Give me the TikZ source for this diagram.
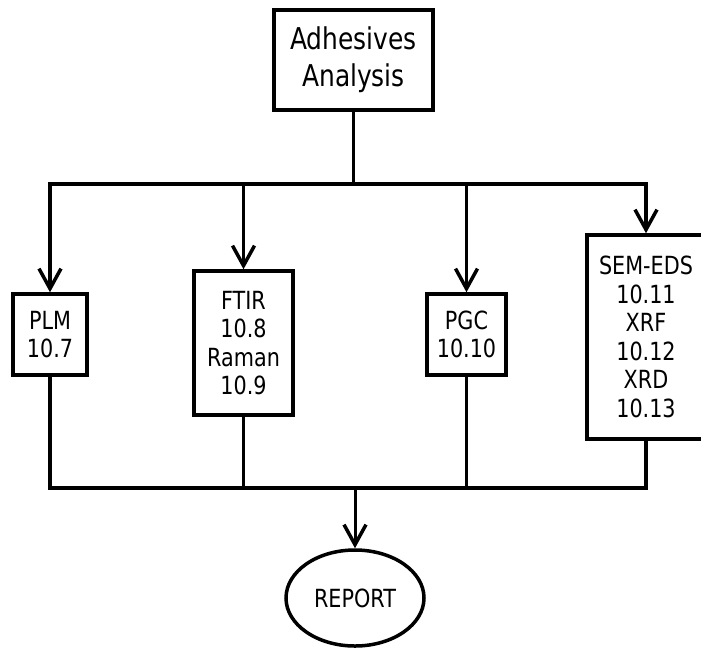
\documentclass[tikz,border=0pt]{standalone}
\usepackage{fontspec}
\setmainfont{DejaVu Sans}[FakeStretch=0.83]
\usetikzlibrary{arrows.meta,shapes.geometric}

\tikzset{
  box/.style={draw, line width=3.5pt, align=center, inner sep=0pt,
    font=\fontsize{25}{28.5}\selectfont},
  arr/.style={-{Straight Barb[length=20pt,width=22pt,line width=3.5pt]}},
}

\begin{document}
\begin{tikzpicture}[x=1pt, y=-1pt, line width=3.5pt]
  \useasboundingbox (0,0) rectangle (701,649);
  \clip (0,0) rectangle (701,649);

  % --- titolo ---
  \node[box, minimum width=159pt, minimum height=100pt,
    font=\fontsize{30}{37}\selectfont] (top) at (353.5,60) {Adhesives\\Analysis};

  % --- metodi ---
  \node[box, minimum width=74pt, minimum height=81pt] (plm) at (50,334.5) {PLM\\10.7};
  \node[box, minimum width=99pt, minimum height=144pt] (ftir) at (243.5,343) {FTIR\\10.8\\Raman\\10.9};
  \node[box, minimum width=79pt, minimum height=81pt] (pgc) at (466.5,334.5) {PGC\\10.10};
  \node[box, minimum width=118pt, minimum height=204pt] (sem) at (646,337)
    {SEM-EDS\\10.11\\XRF\\10.12\\XRD\\10.13};

  % --- report ---
  \node[ellipse, draw, line width=3.5pt, minimum width=138pt, minimum height=96pt,
    inner sep=0pt, font=\fontsize{25}{28.5}\selectfont] (report) at (355,598) {REPORT};

  % --- snodi ---
  \coordinate (hub)  at (353.5,184);
  \coordinate (join) at (355,488);

  % --- frecce ---
  \draw (top) -- (hub);                      % titolo -> barra
  \draw[arr] (hub) -| (plm);                 % barra -> PLM
  \draw[arr] (hub) -| (sem);                 % barra -> SEM-EDS
  \draw[arr] (hub -| ftir) -- (ftir);
  \draw[arr] (hub -| pgc)  -- (pgc);
  \draw (plm) |- (join);                     % metodi -> barra in basso
  \draw (sem) |- (join);
  \draw (ftir) -- (ftir |- join);
  \draw (pgc)  -- (pgc |- join);
  \draw[arr, line width=3pt] (join) -- (report);   % barra -> report
\end{tikzpicture}
\end{document}
